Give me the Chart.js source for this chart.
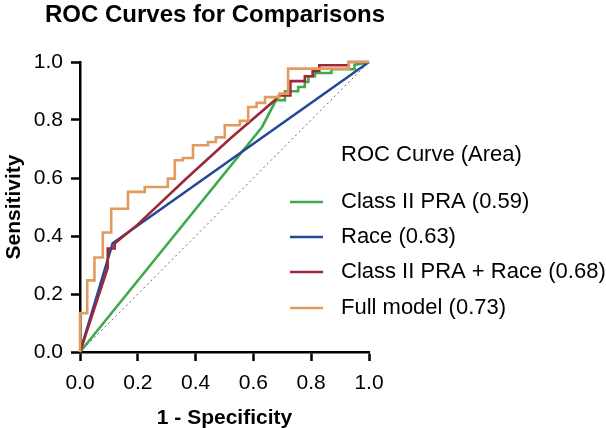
<!DOCTYPE html>
<html>
<head>
<meta charset="utf-8">
<script src="https://cdn.jsdelivr.net/npm/chart.js@4"></script>
<style>
  body { margin: 0; background: #fff; }
  #wrap { width: 606px; height: 428px; }
</style>
</head>
<body>
<div id="wrap"><canvas id="rocChart" width="606" height="428"></canvas></div>
<script>
const chartTitle = 'ROC Curves for Comparisons';
const legendTitle = 'ROC Curve (Area)';
const xTicks = [0, 0.2, 0.4, 0.6, 0.8, 1.0];

// Class II PRA (0.59)
const praX = [0, 0.63, 0.678, 0.709, 0.709, 0.755, 0.755, 0.778, 0.778, 0.79, 0.79, 0.813, 0.813, 0.87, 0.87, 0.95, 0.95, 1];
const praY = [0, 0.776, 0.868, 0.868, 0.899, 0.899, 0.914, 0.914, 0.931, 0.931, 0.951, 0.951, 0.962, 0.962, 0.975, 0.975, 0.99, 1];

// Race (0.63)
const raceX = [0, 0.113, 1];
const raceY = [0, 0.375, 1];

// Class II PRA + Race (0.68)
const comboX = [0, 0.096, 0.096, 0.12, 0.12, 0.2, 0.37, 0.52, 0.674, 0.69, 0.728, 0.728, 0.778, 0.778, 0.805, 0.805, 0.828, 0.828, 0.93, 0.93, 1];
const comboY = [0, 0.29, 0.357, 0.357, 0.374, 0.44, 0.6, 0.736, 0.868, 0.885, 0.885, 0.934, 0.934, 0.951, 0.951, 0.969, 0.969, 0.989, 0.989, 1, 1];

// Full model (0.73)
const fullX = [0, 0, 0.025, 0.025, 0.05, 0.05, 0.079, 0.079, 0.108, 0.108, 0.166, 0.166, 0.224, 0.224, 0.304, 0.304, 0.328, 0.328, 0.356, 0.356, 0.391, 0.391, 0.443, 0.443, 0.47, 0.47, 0.501, 0.501, 0.553, 0.553, 0.582, 0.582, 0.611, 0.611, 0.64, 0.64, 0.69, 0.69, 0.72, 0.72, 0.93, 0.93, 1];
const fullY = [0, 0.134, 0.134, 0.247, 0.247, 0.326, 0.326, 0.412, 0.412, 0.494, 0.494, 0.552, 0.552, 0.569, 0.569, 0.598, 0.598, 0.661, 0.661, 0.669, 0.669, 0.713, 0.713, 0.724, 0.724, 0.74, 0.74, 0.782, 0.782, 0.797, 0.797, 0.845, 0.845, 0.859, 0.859, 0.879, 0.879, 0.891, 0.891, 0.977, 0.977, 1, 1];

// chance line
const refX = [0, 1];
const refY = [0, 1];

const seriesLabels = ['Class II PRA (0.59)', 'Race (0.63)', 'Class II PRA + Race (0.68)', 'Full model (0.73)'];
const seriesColours = ['#3faa4a', '#234a99', '#9c2838', '#e29a5d'];

const FONT = '"Liberation Sans", Arial, Helvetica, sans-serif';

function toPoints(xs, ys) {
    return xs.map((x, i) => ({ x: x, y: ys[i] }));
}

const curves = [[praX, praY], [raceX, raceY], [comboX, comboY], [fullX, fullY]];

const datasets = curves.map((c, i) => ({
    label: seriesLabels[i],
    data: toPoints(c[0], c[1]),
    borderColor: seriesColours[i],
    backgroundColor: seriesColours[i],
    borderWidth: 2.6,
    pointRadius: 0,
    tension: 0,
    fill: false,
    clip: 6,
    order: 3 - i
}));

datasets.push({
    label: 'reference',
    data: toPoints(refX, refY),
    borderColor: '#6a6a6a',
    borderWidth: 1,
    borderDash: [2, 3],
    pointRadius: 0,
    fill: false,
    order: 10
});

// title + legend drawn by hand so they sit exactly like the original
const textPlugin = {
    id: 'rocText',
    afterDraw(chart) {
        const ctx = chart.ctx;
        ctx.save();
        ctx.fillStyle = '#000';
        ctx.textBaseline = 'middle';
        ctx.textAlign = 'left';
        ctx.font = 'bold 24px ' + FONT;
        ctx.fillText(chartTitle, 45, 15);

        ctx.font = '22px ' + FONT;
        ctx.fillText(legendTitle, 341, 155);
        const rowY = [202, 237, 272, 308];
        seriesLabels.forEach((label, i) => {
            ctx.strokeStyle = seriesColours[i];
            ctx.lineWidth = 2.6;
            ctx.beginPath();
            ctx.moveTo(290, rowY[i]);
            ctx.lineTo(323, rowY[i]);
            ctx.stroke();
            ctx.fillStyle = '#000';
            ctx.fillText(label, 341, rowY[i]);
        });
        ctx.restore();
    }
};

const axisStyle = {
    type: 'linear',
    min: 0,
    max: 1,
    border: { display: true, color: '#000', width: 2.5 },
    grid: {
        drawOnChartArea: false,
        drawTicks: true,
        tickLength: 9,
        tickWidth: 2.5,
        tickColor: '#000'
    }
};

new Chart(document.getElementById('rocChart').getContext('2d'), {
    type: 'line',
    data: { datasets: datasets },
    plugins: [textPlugin],
    options: {
        responsive: false,
        animation: false,
        events: [],
        layout: { padding: { top: 62, right: 237, left: 0, bottom: 0 } },
        scales: {
            x: {
                ...axisStyle,
                afterBuildTicks: scale => { scale.ticks = xTicks.map(v => ({ value: v })); },
                afterFit: scale => { scale.height = 76; },
                ticks: {
                    color: '#000',
                    font: { family: FONT, size: 21 },
                    padding: 10,
                    maxRotation: 0,
                    callback: v => v.toFixed(1)
                },
                title: {
                    display: true,
                    text: '1 - Specificity',
                    color: '#000',
                    font: { family: FONT, size: 21, weight: 'bold' },
                    padding: { top: 0, bottom: -3 }
                }
            },
            y: {
                ...axisStyle,
                afterBuildTicks: scale => { scale.ticks = xTicks.map(v => ({ value: v })); },
                afterFit: scale => { scale.width = 80; },
                ticks: {
                    color: '#000',
                    font: { family: FONT, size: 21 },
                    padding: 8,
                    callback: v => v.toFixed(1)
                },
                title: {
                    display: true,
                    text: 'Sensitivity',
                    color: '#000',
                    font: { family: FONT, size: 21, weight: 'bold' },
                    padding: { top: 2, bottom: 0 }
                }
            }
        },
        plugins: {
            legend: { display: false },
            title: { display: false },
            tooltip: { enabled: false }
        }
    }
});
</script>
</body>
</html>
